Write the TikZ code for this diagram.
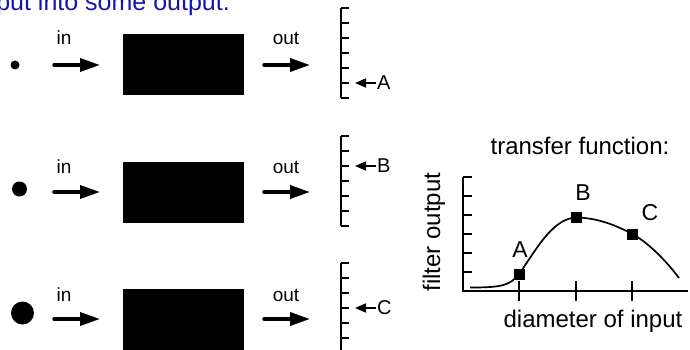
\documentclass[tikz,border=0pt]{standalone}
\usepackage{fontspec}
\setmainfont{Liberation Sans}
\usetikzlibrary{arrows.meta}
\definecolor{titleblue}{RGB}{20,20,170}
\begin{document}
\begin{tikzpicture}[x=1pt,y=-1pt,
  blackbox/.style={fill=black,inner sep=0,minimum width=121pt,minimum height=61pt},
  ball/.style={circle,fill=black,inner sep=0},
  fat arrow/.style={line width=3.5pt,line cap=round,-{Triangle[length=20pt,width=13pt]}},
  thin arrow/.style={line width=1.7pt,-{Triangle[length=11pt,width=9pt]}},
  scale line/.style={line width=2.2pt},
  small text/.style={font=\fontsize{19}{22}\selectfont,inner sep=0},
  big text/.style={font=\fontsize{24}{28}\selectfont,inner sep=0},
  sq/.style={fill=black,inner sep=0,minimum size=11pt}]
\useasboundingbox (0,0) rectangle (690,350);
\clip (0,0) rectangle (690,350);
\node[anchor=base east,text=titleblue,font=\fontsize{25}{29}\selectfont,inner sep=0] (title) at (230,10.5) {put into some output.};

% first row, small input
\node[ball,minimum size=9pt] (dot1) at (15,65) {};
\coordinate (in1a) at (54,65);
\coordinate (in1b) at (100,65);
\draw[fat arrow] (in1a) -- (in1b);
\node[small text,anchor=base] (inlab1) at (64,45) {in};
\node[blackbox] (box1) at (183.5,64.5) {};
\coordinate (out1a) at (264,65);
\coordinate (out1b) at (310,65);
\draw[fat arrow] (out1a) -- (out1b);
\node[small text,anchor=base] (outlab1) at (286,45) {out};
\draw[scale line] (341,8) -- (341,98);
\foreach \t in {8,23,...,98} \draw[scale line] (341,\t) -- (349,\t);
\coordinate (mark1) at (355,83);
\node[small text,font=\fontsize{20}{24}\selectfont,anchor=west,inner sep=1pt] (lab1) at (376,83) {A};
\draw[thin arrow] (lab1.west) -- (mark1);

% second row, medium input
\node[ball,minimum size=15pt] (dot2) at (19.5,189) {};
\coordinate (in2a) at (54,192);
\coordinate (in2b) at (100,192);
\draw[fat arrow] (in2a) -- (in2b);
\node[small text,anchor=base] (inlab2) at (64,173) {in};
\node[blackbox] (box2) at (183.5,192.5) {};
\coordinate (out2a) at (264,192);
\coordinate (out2b) at (310,192);
\draw[fat arrow] (out2a) -- (out2b);
\node[small text,anchor=base] (outlab2) at (286,173) {out};
\draw[scale line] (341,136) -- (341,226);
\foreach \t in {136,151,...,226} \draw[scale line] (341,\t) -- (349,\t);
\coordinate (mark2) at (355,166);
\node[small text,font=\fontsize{20}{24}\selectfont,anchor=west,inner sep=1pt] (lab2) at (376,166) {B};
\draw[thin arrow] (lab2.west) -- (mark2);

% third row, large input
\node[ball,minimum size=23pt] (dot3) at (22.5,313) {};
\coordinate (in3a) at (54,319);
\coordinate (in3b) at (100,319);
\draw[fat arrow] (in3a) -- (in3b);
\node[small text,anchor=base] (inlab3) at (64,301) {in};
\node[blackbox] (box3) at (183.5,319.5) {};
\coordinate (out3a) at (264,319);
\coordinate (out3b) at (310,319);
\draw[fat arrow] (out3a) -- (out3b);
\node[small text,anchor=base] (outlab3) at (286,301) {out};
\draw[scale line] (341,263) -- (341,353);
\foreach \t in {263,278,...,353} \draw[scale line] (341,\t) -- (349,\t);
\coordinate (mark3) at (355,308);
\node[small text,font=\fontsize{20}{24}\selectfont,anchor=west,inner sep=1pt] (lab3) at (376,308) {C};
\draw[thin arrow] (lab3.west) -- (mark3);

% transfer function
\node[big text,anchor=base] (tftitle) at (580,154) {transfer function:};
\draw[line width=2pt] (463,177) -- (463,291) -- (688,291);
\foreach \t in {177,196,215,234,253,272} \draw[line width=2pt] (463,\t) -- (472,\t);
\foreach \t in {519,575.5,632} \draw[line width=2pt] (\t,281) -- (\t,301);
\node[big text,rotate=90] (ylab) at (434,232) {filter output};
\node[big text,anchor=base] (xlab) at (593,327) {diameter of input};
\node[sq] (ptA) at (519,274) {};
\node[sq] (ptB) at (576.5,217.5) {};
\node[sq] (ptC) at (632.5,234) {};
\coordinate (cstart) at (470,287.5);
\coordinate (cend) at (679,278);
\draw[line width=1.7pt] (cstart) .. controls (500,287.5) and (510,286) .. (ptA.center)
  .. controls (535,252) and (552,218) .. (ptB.center)
  .. controls (598,218) and (615,225) .. (ptC.center)
  .. controls (650,244) and (667,262) .. (cend);
\node[big text,font=\fontsize{23}{27}\selectfont] (tA) at (520,249.5) {A};
\node[big text,font=\fontsize{23}{27}\selectfont] (tB) at (583,193) {B};
\node[big text,font=\fontsize{23}{27}\selectfont] (tC) at (650,213) {C};
\end{tikzpicture}
\end{document}
